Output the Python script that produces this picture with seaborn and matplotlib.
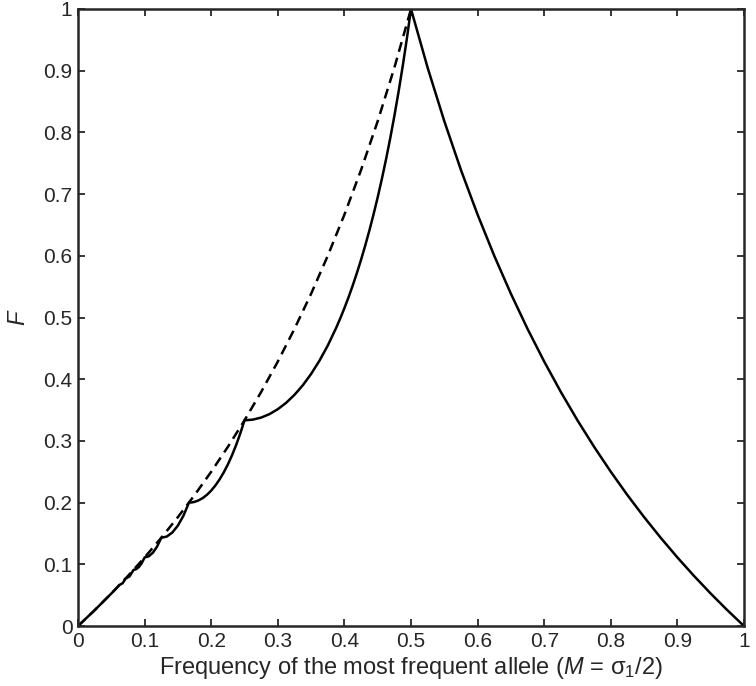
import matplotlib
matplotlib.use("Agg")
import matplotlib.pyplot as plt
import pandas as pd
import seaborn as sns

# solid curve: upper bound of F vs M
m_solid = [0.0, 0.025, 0.05, 0.0625, 0.067, 0.07143, 0.0774, 0.08333, 0.0875,
           0.09167, 0.09583, 0.1, 0.10625, 0.1125, 0.11875, 0.125, 0.13333,
           0.14167, 0.15, 0.15833, 0.16667, 0.17083, 0.175, 0.18125, 0.1875,
           0.19375, 0.2, 0.20625, 0.2125, 0.21875, 0.225, 0.23125, 0.2375,
           0.24375, 0.25, 0.2625, 0.275, 0.2875, 0.3, 0.3125, 0.325, 0.3375,
           0.35, 0.3625, 0.375, 0.3875, 0.39375, 0.4, 0.40625, 0.4125, 0.41875,
           0.425, 0.43125, 0.4375, 0.44375, 0.45, 0.45625, 0.4625, 0.46875,
           0.475, 0.48125, 0.4875, 0.49375, 0.5,
           0.525, 0.55, 0.575, 0.6, 0.625, 0.65, 0.675, 0.7, 0.725, 0.75,
           0.775, 0.8, 0.825, 0.85, 0.875, 0.9, 0.925, 0.95, 0.975, 1.0]
f_solid = [0.0, 0.0256, 0.0526, 0.0667, 0.0693, 0.0769, 0.0804, 0.0909, 0.0922,
           0.0959, 0.1022, 0.1111, 0.1130, 0.1189, 0.1288, 0.1429, 0.1450,
           0.1516, 0.1628, 0.1788, 0.2, 0.2003, 0.2012, 0.2037, 0.2075,
           0.2128, 0.2195, 0.2277, 0.2374, 0.2488, 0.2618, 0.2767, 0.2935,
           0.3123, 0.3333, 0.3345, 0.3378, 0.3434, 0.3514, 0.3617, 0.3746,
           0.3901, 0.4085, 0.4299, 0.4545, 0.4829, 0.4985, 0.5152, 0.5329,
           0.5519, 0.5721, 0.5936, 0.6166, 0.6410, 0.6671, 0.6949, 0.7246,
           0.7563, 0.7902, 0.8265, 0.8654, 0.9070, 0.9518, 1.0,
           0.9048, 0.8182, 0.7391, 0.6667, 0.6, 0.5385, 0.4815, 0.4286, 0.3793,
           0.3333, 0.2903, 0.25, 0.2121, 0.1765, 0.1429, 0.1111, 0.0811, 0.0526,
           0.0256, 0.0]

# dashed curve
m_dash = [0.0, 0.025, 0.05, 0.075, 0.1, 0.125, 0.15, 0.175, 0.2, 0.225, 0.25,
          0.275, 0.3, 0.325, 0.35, 0.375, 0.4, 0.425, 0.45, 0.475, 0.5]
f_dash = [0.0, 0.0256, 0.0526, 0.0811, 0.1111, 0.1429, 0.1765, 0.2121, 0.25,
          0.2903, 0.3333, 0.3793, 0.4286, 0.4815, 0.5385, 0.6, 0.6667, 0.7391,
          0.8182, 0.9048, 1.0]

ticks = [0, 0.1, 0.2, 0.3, 0.4, 0.5, 0.6, 0.7, 0.8, 0.9, 1]
tick_labels = ['0', '0.1', '0.2', '0.3', '0.4', '0.5', '0.6', '0.7', '0.8', '0.9', '1']

sns.set_style("ticks")
plt.rcParams['font.family'] = ['Liberation Sans', 'DejaVu Sans']
plt.rcParams['mathtext.fontset'] = 'custom'
plt.rcParams['mathtext.rm'] = 'Liberation Sans'
plt.rcParams['mathtext.it'] = 'Liberation Sans:italic'

solid = pd.DataFrame({'M': m_solid, 'F': f_solid})
dash = pd.DataFrame({'M': m_dash, 'F': f_dash})

fig = plt.figure(figsize=(7.56, 6.86), dpi=100)
ax = fig.add_axes([78 / 756, 1 - 626 / 686, 666 / 756, 617 / 686])

sns.lineplot(data=dash, x='M', y='F', ax=ax, color='black', lw=1.8,
             sort=False, estimator=None, linestyle=(0, (4, 2.5)))
sns.lineplot(data=solid, x='M', y='F', ax=ax, color='black', lw=1.8,
             sort=False, estimator=None)

ax.set_xlim(0, 1)
ax.set_ylim(0, 1)
ax.set_xticks(ticks)
ax.set_xticklabels(tick_labels)
ax.set_yticks(ticks)
ax.set_yticklabels(tick_labels)
ax.tick_params(direction='in', top=True, right=True, length=5, width=1.3,
               labelsize=15, pad=4)
for s in ax.spines.values():
    s.set_linewidth(1.8)

ax.set_xlabel(r'Frequency of the most frequent allele ($M$ = σ$_1$/2)',
              fontsize=17, labelpad=3)
ax.set_ylabel('F', fontsize=17, style='italic', labelpad=10)

fig.savefig('out.png', dpi=100)
